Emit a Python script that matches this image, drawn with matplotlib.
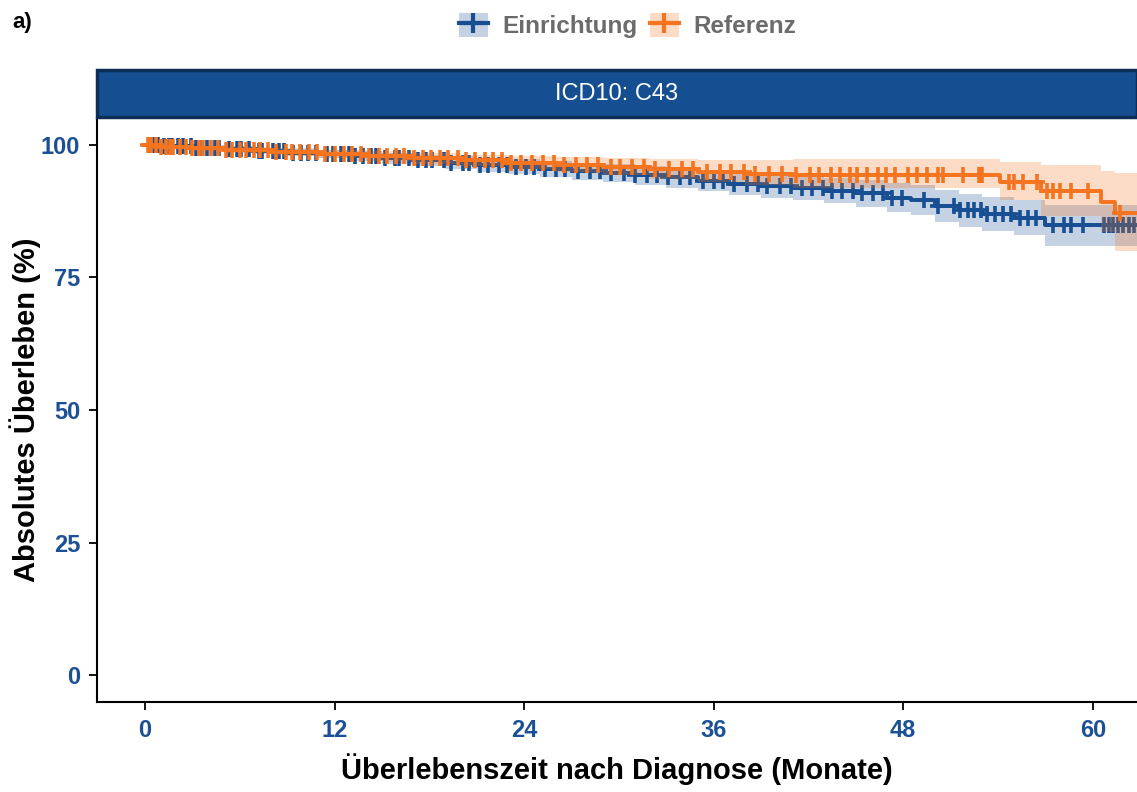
import numpy as np
import matplotlib.pyplot as plt
from matplotlib.patches import Patch, Rectangle
from matplotlib.lines import Line2D

plt.rcParams['font.family'] = ['Liberation Sans', 'DejaVu Sans']

# Kaplan-Meier step data (months, survival %)
ein_t = [0, 1, 3, 5, 7, 9, 11, 13, 15, 17, 19, 21, 23, 25, 27, 29, 31, 33, 35, 37,
         39, 41, 43, 45, 47, 48.5, 50, 51.5, 53, 55, 57, 64]
ein_s = [100, 99.7, 99.4, 99.1, 98.8, 98.5, 98.2, 97.8, 97.4, 97.0, 96.6, 96.2, 95.8,
         95.4, 95.0, 94.6, 94.2, 93.8, 93.2, 92.6, 92.2, 91.8, 91.3, 90.8, 90.0, 89.5,
         88.5, 87.6, 87.0, 86.2, 84.8, 84.8]
ein_lo = [100, 99.4, 99.0, 98.6, 98.2, 97.8, 97.4, 96.9, 96.4, 95.9, 95.4, 94.9, 94.4,
          93.9, 93.4, 92.9, 92.4, 91.9, 91.2, 90.5, 90.0, 89.5, 88.9, 88.3, 87.3, 86.7,
          85.5, 84.5, 83.8, 82.9, 80.8, 80.8]
ein_hi = [100, 100, 99.9, 99.7, 99.4, 99.2, 99.0, 98.7, 98.4, 98.1, 97.8, 97.5, 97.2,
          96.9, 96.6, 96.3, 96.0, 95.7, 95.2, 94.7, 94.4, 94.1, 93.7, 93.3, 92.7, 92.3,
          91.5, 90.7, 90.2, 89.6, 88.6, 88.6]

ref_t = [0, 1, 3, 5, 8, 11, 14, 17, 20, 23, 26, 29, 32, 35, 38, 41, 54.1, 56.7, 60.5,
         61.4, 64]
ref_s = [100, 99.6, 99.3, 99.0, 98.6, 98.2, 97.8, 97.4, 97.0, 96.6, 96.2, 95.8, 95.4,
         94.9, 94.5, 94.2, 93.0, 91.3, 89.2, 87.2, 87.2]
ref_lo = [100, 99.2, 98.8, 98.4, 97.9, 97.4, 96.9, 96.4, 95.9, 95.4, 94.8, 94.2, 93.6,
          92.9, 92.3, 91.8, 89.6, 86.5, 83.5, 80.0, 80.0]
ref_hi = [100, 100, 99.8, 99.6, 99.3, 99.0, 98.7, 98.4, 98.1, 97.8, 97.6, 97.4, 97.2,
          97.0, 97.0, 97.2, 96.8, 96.2, 95.0, 94.6, 94.6]

# censoring times (months)
ein_cens = [0.3, 0.6, 0.8, 1.2, 1.5, 1.7, 2.1, 2.4, 2.9, 3.2, 3.6, 3.9, 4.4, 4.7, 5.3,
            5.8, 6.1, 6.6, 7.2, 7.4, 8.1, 8.5, 8.8, 9.4, 9.9, 10.3, 10.8, 11.5, 11.9,
            12.4, 12.9, 13.3, 13.8, 14.3, 14.6, 15.2, 15.8, 16.1, 16.7, 17.3, 17.8,
            18.2, 18.9, 19.4, 20.1, 20.5, 21.2, 21.7, 22.4, 22.9, 23.5, 24.1, 24.6,
            25.3, 26.0, 26.6, 27.4, 28.2, 28.8, 29.5, 30.3, 31.0, 31.8, 32.4, 33.1,
            33.9, 34.5, 35.3, 36.0, 36.6, 37.3, 38.1, 38.8, 39.4, 40.2, 40.9, 41.6,
            42.2, 42.9, 43.5, 44.1, 44.8, 45.4, 46.1, 46.7, 47.3, 47.9, 49.3, 50.2,
            51.2, 51.6, 52.1, 52.5, 52.9, 53.3, 53.8, 54.3, 54.8, 55.4, 55.9, 56.4,
            57.5, 58.2, 58.6, 59.4, 60.7, 61.0, 61.3, 61.6, 61.9, 62.3, 62.6]
ref_cens = [0.2, 0.4, 0.7, 1.0, 1.3, 1.6, 1.8, 2.2, 2.6, 3.0, 3.4, 3.7, 4.2, 4.6, 5.1,
            5.5, 6.0, 6.4, 6.9, 7.3, 7.8, 8.3, 8.9, 9.3, 9.8, 10.4, 10.9, 11.4, 12.0,
            12.6, 13.1, 13.7, 14.2, 14.8, 15.3, 15.9, 16.4, 17.0, 17.6, 18.1, 18.7,
            19.2, 19.8, 20.3, 20.9, 21.5, 22.0, 22.6, 23.2, 23.8, 24.5, 25.2, 25.9,
            26.5, 27.3, 28.0, 28.7, 29.5, 30.1, 30.8, 31.6, 32.3, 33.2, 34.0, 34.7,
            35.6, 36.4, 37.1, 37.9, 38.6, 39.5, 40.3, 41.2, 42.1, 42.7, 43.4, 44.0,
            44.6, 45.1, 45.7, 46.4, 46.9, 47.5, 48.3, 48.9, 49.5, 50.2, 50.5, 51.8,
            52.8, 53.0, 54.7, 55.0, 55.6, 56.5, 57.1, 57.5, 57.9, 58.6, 59.7, 61.7]

blue = "#174f92"
orange = "#f47420"
tick_col = "#1c5096"

fig = plt.figure(figsize=(11.37, 7.92), dpi=100)
ax = fig.add_axes([0.0853, 0.1136, 0.9147, 0.7374])


def draw(t, s, lo, hi, cens, col, z):
    t = np.array(t)
    s = np.array(s)
    ax.fill_between(t, lo, hi, step="post", color=col, alpha=0.25, lw=0, zorder=z)
    ax.step(t, s, where="post", color=col, lw=2.8, zorder=z + 1)
    idx = np.searchsorted(t, cens, side="right") - 1
    ax.plot(cens, s[idx], ls="none", marker="+", ms=12, mew=2.6, color=col, zorder=z + 1)


draw(ein_t, ein_s, ein_lo, ein_hi, ein_cens, blue, 2)
draw(ref_t, ref_s, ref_lo, ref_hi, ref_cens, orange, 4)

ax.set_xlim(-3.04, 62.8)
ax.set_ylim(-5, 105)
ax.set_xticks([0, 12, 24, 36, 48, 60])
ax.set_yticks([0, 25, 50, 75, 100])
for sp in ["top", "right"]:
    ax.spines[sp].set_visible(False)
for sp in ["left", "bottom"]:
    ax.spines[sp].set_linewidth(1.5)
ax.tick_params(length=6, width=1.3, labelsize=17, labelcolor=tick_col, pad=6)
for lab in ax.get_xticklabels() + ax.get_yticklabels():
    lab.set_fontweight("bold")
ax.set_xlabel("Überlebenszeit nach Diagnose (Monate)", fontsize=21,
              fontweight="bold", labelpad=8)
ax.set_ylabel("Absolutes Überleben (%)", fontsize=21, fontweight="bold")
ax.yaxis.set_label_coords(-0.054, 0.5)

# facet strip
fig.patches.append(Rectangle((0.0853, 0.852), 0.9147, 0.059, transform=fig.transFigure,
                             facecolor="#154f91", edgecolor="#0d2f57", lw=2.5))
fig.text(0.0853 + 0.9147 / 2, 0.8815, "ICD10: C43", color="white", fontsize=17,
         ha="center", va="center")

fig.text(0.011, 0.972, "a)", fontsize=16, fontweight="bold", va="center")

handles = [
    (Patch(facecolor=blue, alpha=0.25, lw=0),
     Line2D([], [], color=blue, lw=3, marker="+", ms=14, mew=3)),
    (Patch(facecolor=orange, alpha=0.25, lw=0),
     Line2D([], [], color=orange, lw=3, marker="+", ms=14, mew=3)),
]
leg = fig.legend(handles, ["Einrichtung", "Referenz"], loc="center",
                 bbox_to_anchor=(0.552, 0.968), ncol=2, frameon=False,
                 handlelength=1.2, handleheight=1.2, handletextpad=0.6,
                 columnspacing=0.5, prop={"size": 17.5, "weight": "bold"})
for txt in leg.get_texts():
    txt.set_color("#6b6b6b")

fig.savefig("out.png", dpi=100)
